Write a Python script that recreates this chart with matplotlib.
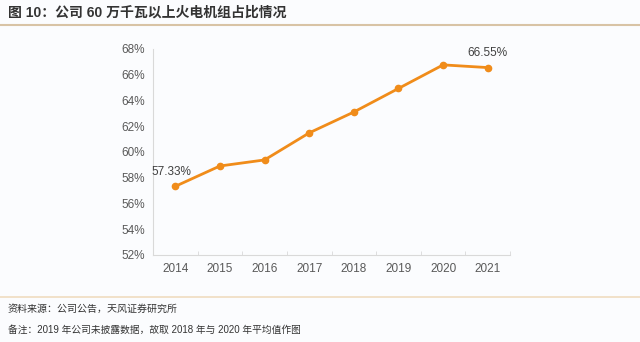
import matplotlib
matplotlib.use("Agg")
import matplotlib.pyplot as plt
from matplotlib.ticker import FixedLocator, FuncFormatter

plt.rcParams["font.family"] = ["Liberation Sans", "Noto Sans CJK SC", "DejaVu Sans"]

# ── 数据 ──────────────────────────────────────────────────────────────
anos = ["2014", "2015", "2016", "2017", "2018", "2019", "2020", "2021"]
participacao = [57.33, 58.91, 59.38, 61.48, 63.10, 64.93, 66.76, 66.55]

titulo = "图 10：公司 60 万千瓦以上火电机组占比情况"
fonte = "资料来源：公司公告，天风证券研究所"
nota = "备注：2019 年公司未披露数据，故取 2018 年与 2020 年平均值作图"

LARANJA = "#f08c1a"
CINZA = "#595959"
FUNDO = "#fbfcfe"

fig = plt.figure(figsize=(6.4, 3.42), dpi=100, facecolor=FUNDO)
ax = fig.add_axes([0.239, 0.2544, 0.558, 0.6026], facecolor=FUNDO)

x = list(range(len(anos)))
ax.plot(x, participacao, color=LARANJA, lw=2.0, marker="o", ms=4.5,
        mfc=LARANJA, mec=LARANJA, solid_capstyle="round", zorder=3)

ax.set_xlim(-0.5, len(anos) - 0.5)
ax.set_ylim(52, 68)
ax.set_yticks(range(52, 69, 2))
ax.yaxis.set_major_formatter(FuncFormatter(lambda v, p: f"{v:.0f}%"))
ax.set_xticks(x)
ax.set_xticklabels(anos)
ax.xaxis.set_minor_locator(FixedLocator([i + 0.5 for i in range(-1, len(anos))]))

for s in ["top", "right"]:
    ax.spines[s].set_visible(False)
for s in ["left", "bottom"]:
    ax.spines[s].set_color("#d9d9d9")
    ax.spines[s].set_linewidth(0.8)

ax.tick_params(axis="y", length=0, labelsize=8.5, colors=CINZA, pad=6)
ax.tick_params(axis="x", which="major", length=0, labelsize=8.5, colors=CINZA, pad=6)
ax.tick_params(axis="x", which="minor", length=3, color="#d9d9d9", direction="in")

# rótulos do primeiro e último ponto
ax.annotate(f"{participacao[0]:.2f}%", (x[0], participacao[0]), xytext=(-3, 6),
            textcoords="offset points", ha="center", va="bottom", fontsize=8.5, color="#404040")
ax.annotate(f"{participacao[-1]:.2f}%", (x[-1], participacao[-1]), xytext=(0, 6),
            textcoords="offset points", ha="center", va="bottom", fontsize=8.5, color="#404040")

# cabeçalho e rodapé
fig.text(0.0125, 0.962, titulo, fontsize=10, fontweight="bold", color="#333333", va="center")
fig.add_artist(plt.Line2D([0, 1], [0.928, 0.928], transform=fig.transFigure,
                          color="#d8c3a5", lw=1.5))
fig.add_artist(plt.Line2D([0, 1], [0.132, 0.132], transform=fig.transFigure,
                          color="#f0dcc0", lw=1.2))
fig.text(0.0125, 0.098, fonte, fontsize=7.2, color="#333333", va="center")
fig.text(0.0125, 0.035, nota, fontsize=7.0, color="#333333", va="center")

fig.savefig("out.png", dpi=100, facecolor=FUNDO)
